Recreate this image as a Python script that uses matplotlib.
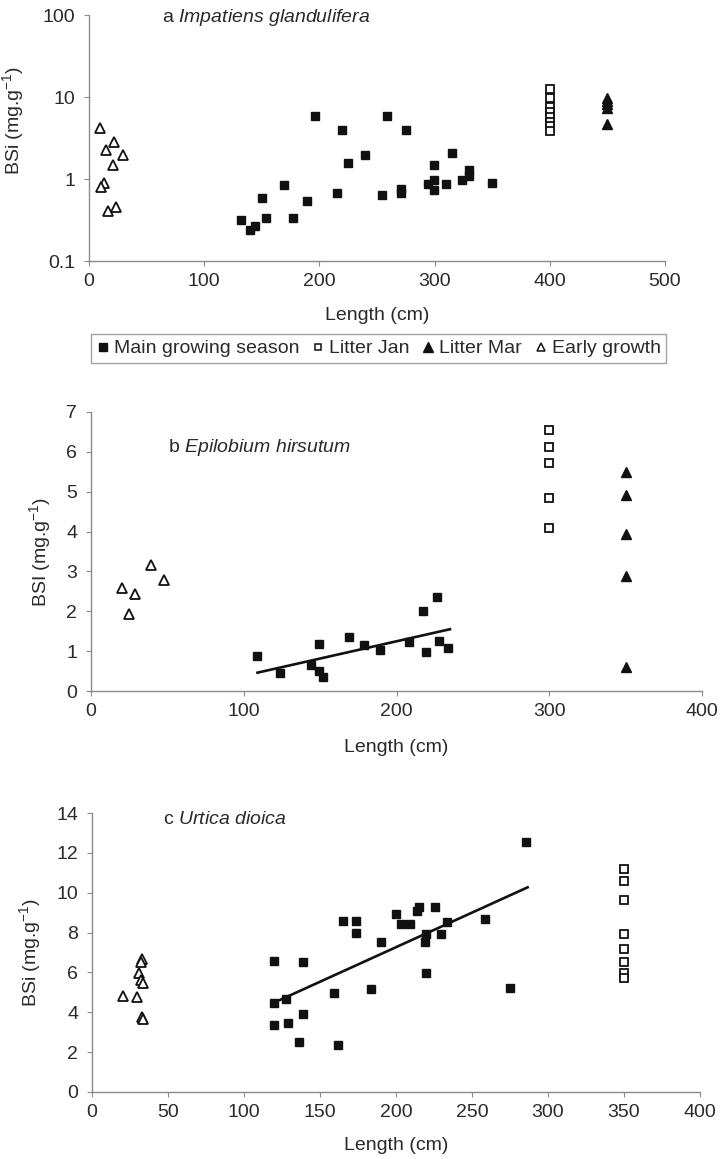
import matplotlib
matplotlib.use("Agg")
import matplotlib.pyplot as plt
from matplotlib.lines import Line2D

plt.rcParams['font.family'] = ['Liberation Sans', 'DejaVu Sans']
plt.rcParams['mathtext.fontset'] = 'custom'
plt.rcParams['mathtext.rm'] = 'Liberation Sans'
plt.rcParams['mathtext.it'] = 'Liberation Sans:italic'

# ---------------- data: panel a (Impatiens glandulifera) ----------------
a_main_x = [132, 140, 144, 150, 154, 169, 177, 189.5, 196, 215, 220, 224.5,
            239.6, 254, 259, 271, 271, 275, 294.5, 299.5, 299.5, 299.5, 310,
            315, 324, 330, 330, 349.5]
a_main_y = [0.32, 0.24, 0.27, 0.58, 0.33, 0.85, 0.33, 0.54, 5.8, 0.67, 4.0, 1.55,
            1.95, 0.63, 5.8, 0.75, 0.68, 4.0, 0.86, 1.5, 0.97, 0.73, 0.86,
            2.05, 0.96, 1.29, 1.09, 0.90]
a_jan_x = [400, 400, 400, 400, 400, 400, 400, 400]
a_jan_y = [12.5, 9.7, 7.5, 6.5, 5.7, 5.0, 4.4, 3.8]
a_mar_x = [450, 450, 450, 450, 450]
a_mar_y = [9.8, 9.0, 8.2, 7.4, 4.7]
a_early_x = [9.5, 22, 14.8, 29.8, 20.5, 13.3, 10.4, 23.4, 16.8]
a_early_y = [4.2, 2.8, 2.23, 1.94, 1.49, 0.89, 0.81, 0.46, 0.41]

# ---------------- data: panel b (Epilobium hirsutum) ----------------
b_main_x = [109, 124, 144, 149, 149, 152, 169, 179, 189, 208.5, 217.6, 219,
            226.6, 227.6, 234]
b_main_y = [0.89, 0.45, 0.65, 1.19, 0.51, 0.34, 1.36, 1.15, 1.04, 1.22, 2.0, 0.99,
            2.35, 1.25, 1.09]
b_jan_x = [300, 300, 300, 300, 300]
b_jan_y = [6.54, 6.12, 5.72, 4.84, 4.10]
b_mar_x = [350, 350, 350, 350, 350]
b_mar_y = [5.50, 4.93, 3.95, 2.89, 0.59]
b_early_x = [20, 29, 25, 39.2, 48]
b_early_y = [2.58, 2.43, 1.93, 3.15, 2.78]
b_fit_x = [109, 235]
b_fit_y = [0.46, 1.55]

# ---------------- data: panel c (Urtica dioica) ----------------
c_main_x = [120, 120, 120, 127.4, 129, 136.4, 139, 139, 159.4, 161.6, 165.4,
            173.7, 173.7, 183.6, 190, 200, 203, 209, 214, 215, 219.5, 219,
            219.5, 225.7, 229.4, 233.8, 258.6, 275, 285.3]
c_main_y = [6.56, 4.48, 3.36, 4.67, 3.45, 2.51, 6.51, 3.91, 4.95, 2.36, 8.6,
            8.6, 8.0, 5.17, 7.54, 8.95, 8.41, 8.41, 9.1, 9.28, 7.91, 7.53,
            5.99, 9.28, 7.94, 8.55, 8.68, 5.22, 12.56]
c_jan_x = [350, 350, 350, 350, 350, 350, 350, 350]
c_jan_y = [11.17, 10.6, 9.63, 7.91, 7.16, 6.54, 5.96, 5.71]
c_early_x = [20.6, 29.4, 32.7, 32.5, 31, 32, 33.3, 32.7, 33.5]
c_early_y = [4.82, 4.75, 6.66, 6.5, 5.95, 5.62, 5.49, 3.75, 3.66]
c_fit_x = [123.7, 286.6]
c_fit_y = [4.62, 10.27]

legend_labels = ["Main growing season", "Litter Jan", "Litter Mar", "Early growth"]

W, H = 721, 1159
FS = 14
fig = plt.figure(figsize=(W / 100, H / 100), dpi=100)

def axes_px(l, r, t, b):
    return fig.add_axes([l / W, 1 - b / H, (r - l) / W, (b - t) / H])

ax_a = axes_px(89, 665, 15, 261)
ax_b = axes_px(91, 702, 412, 691)
ax_c = axes_px(92, 700, 813, 1092)

SPINE = '#8a8a8a'
TXT = '#2a2a2a'
MS = 6.3
styles = {
    'main': dict(marker='s', color='#111111', linestyle='none', markersize=MS),
    'jan': dict(marker='s', markerfacecolor='white', markeredgecolor='#111111',
                markeredgewidth=1.3, linestyle='none', markersize=MS - 0.8),
    'mar': dict(marker='^', color='#111111', linestyle='none', markersize=MS + 0.7),
    'early': dict(marker='^', markerfacecolor='white', markeredgecolor='#111111',
                  markeredgewidth=1.3, linestyle='none', markersize=MS + 0.5),
}

def style_axes(ax):
    for s in ['top', 'right']:
        ax.spines[s].set_visible(False)
    for s in ['left', 'bottom']:
        ax.spines[s].set_color(SPINE)
        ax.spines[s].set_linewidth(1.0)
    ax.tick_params(axis='both', which='major', direction='out', length=3.5,
                   color=SPINE, labelsize=FS, labelcolor=TXT)
    ax.tick_params(axis='x', pad=5)
    ax.tick_params(axis='y', pad=6.5)
    ax.tick_params(which='minor', length=0)

def title(ax, x, y, letter, name):
    words = name.split(' ')
    it = r'\ '.join(words)
    ax.text(x, y, letter + ' $\\mathit{' + it + '}$', transform=ax.transAxes,
            fontsize=FS, color=TXT, va='center', ha='left')

# panel a
ax_a.plot(a_main_x, a_main_y, **styles['main'])
ax_a.plot(a_jan_x, a_jan_y, **styles['jan'])
ax_a.plot(a_mar_x, a_mar_y, **styles['mar'])
ax_a.plot(a_early_x, a_early_y, **styles['early'])
ax_a.set_yscale('log')
ax_a.set_ylim(0.1, 100)
ax_a.set_xlim(0, 500)
ax_a.set_xticks([0, 100, 200, 300, 400, 500])
ax_a.set_yticks([0.1, 1, 10, 100])
ax_a.set_yticklabels(['0.1', '1', '10', '100'])
style_axes(ax_a)
ax_a.set_xlabel('Length (cm)', fontsize=FS, color=TXT)
ax_a.xaxis.set_label_coords(0.5, -0.187)
ax_a.set_ylabel('BSi (mg.g$^{-1}$)', fontsize=FS, color=TXT)
ax_a.yaxis.set_label_coords(-0.109, 0.57)
title(ax_a, 0.127, 0.988, 'a', 'Impatiens glandulifera')

# panel b
ax_b.plot(b_fit_x, b_fit_y, color='#111111', linewidth=1.9)
ax_b.plot(b_main_x, b_main_y, **styles['main'])
ax_b.plot(b_jan_x, b_jan_y, **styles['jan'])
ax_b.plot(b_mar_x, b_mar_y, **styles['mar'])
ax_b.plot(b_early_x, b_early_y, **styles['early'])
ax_b.set_xlim(0, 400)
ax_b.set_ylim(0, 7)
ax_b.set_xticks([0, 100, 200, 300, 400])
ax_b.set_yticks(range(0, 8))
style_axes(ax_b)
ax_b.set_xlabel('Length (cm)', fontsize=FS, color=TXT)
ax_b.xaxis.set_label_coords(0.5, -0.172)
ax_b.set_ylabel('BSI (mg.g$^{-1}$)', fontsize=FS, color=TXT)
ax_b.yaxis.set_label_coords(-0.062, 0.5)
title(ax_b, 0.126, 0.871, 'b', 'Epilobium hirsutum')

# panel c
ax_c.plot(c_fit_x, c_fit_y, color='#111111', linewidth=1.9)
ax_c.plot(c_main_x, c_main_y, **styles['main'])
ax_c.plot(c_jan_x, c_jan_y, **styles['jan'])
ax_c.plot(c_early_x, c_early_y, **styles['early'])
ax_c.set_xlim(0, 400)
ax_c.set_ylim(0, 14)
ax_c.set_xticks(range(0, 401, 50))
ax_c.set_yticks(range(0, 15, 2))
style_axes(ax_c)
ax_c.set_xlabel('Length (cm)', fontsize=FS, color=TXT)
ax_c.xaxis.set_label_coords(0.5, -0.161)
ax_c.set_ylabel('BSi (mg.g$^{-1}$)', fontsize=FS, color=TXT)
ax_c.yaxis.set_label_coords(-0.081, 0.5)
title(ax_c, 0.117, 0.978, 'c', 'Urtica dioica')

# legend
handles = [
    Line2D([], [], marker='s', color='#111111', linestyle='none', markersize=5.4),
    Line2D([], [], marker='s', markerfacecolor='white', markeredgecolor='#111111',
           markeredgewidth=1.1, linestyle='none', markersize=5.0),
    Line2D([], [], marker='^', color='#111111', linestyle='none', markersize=6.6),
    Line2D([], [], marker='^', markerfacecolor='white', markeredgecolor='#111111',
           markeredgewidth=1.1, linestyle='none', markersize=6.3),
]
leg = fig.legend(handles, legend_labels, loc='upper left',
                 bbox_to_anchor=(91 / W, 1 - 334 / H), ncol=4,
                 fontsize=FS, frameon=True, fancybox=False,
                 handlelength=0.6, handletextpad=0.26, columnspacing=0.67,
                 borderpad=0.3, borderaxespad=0.0, labelcolor=TXT)
leg.get_frame().set_edgecolor(SPINE)
leg.get_frame().set_linewidth(1.0)

fig.savefig('out.png', dpi=100)
